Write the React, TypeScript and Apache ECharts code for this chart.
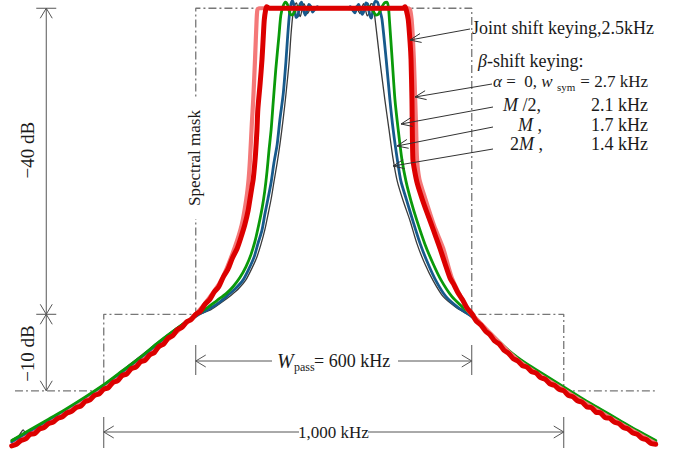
import React, { useEffect, useRef } from "react";
import * as echarts from "echarts";

// Axis ranges (kHz offset from carrier, dB relative level)
const FREQ_MIN = -700;
const FREQ_MAX = 700;
const LEVEL_MIN = -58;
const LEVEL_MAX = 1;

// Spectral mask
const maskFreq = [-693, -500, -500, -300, -300, 300, 300, 500, 500, 698];
const maskLevel = [-50, -50, -40, -40, 0, 0, -40, -40, -50, -50];

// Joint shift keying, 2.5 kHz (thick red)
const jointShiftKeying: number[][] = [
  [-700, -57.2], [-690, -57.0], [-680, -56.5], [-670, -56.3], [-660, -55.7], [-650, -55.6],
  [-640, -55.0], [-630, -54.8], [-620, -54.3], [-610, -54.1], [-600, -53.6], [-590, -53.4],
  [-580, -52.9], [-570, -52.7], [-560, -52.2], [-550, -52.0], [-540, -51.4], [-530, -51.2],
  [-520, -50.6], [-510, -50.4], [-500, -49.8], [-490, -49.6], [-480, -48.9], [-470, -48.7],
  [-460, -48.0], [-450, -47.8], [-440, -47.1], [-430, -46.9], [-420, -46.2], [-410, -46.0],
  [-400, -45.3], [-390, -45.0], [-380, -44.2], [-370, -43.9], [-360, -43.1], [-350, -42.8],
  [-340, -42.0], [-330, -41.7], [-320, -41.0], [-310, -40.7], [-300, -40.0], [-290, -39.6],
  [-280, -38.7], [-270, -38.1], [-260, -37.1], [-250, -36.4], [-240, -35.1], [-230, -34.1],
  [-220, -32.6], [-210, -31.4], [-202, -30.0], [-193, -28.2], [-186, -26.4], [-182, -24.9],
  [-178, -23.4], [-175, -22.3], [-172, -20.5], [-170, -19.0], [-167, -16.0], [-165, -13.2],
  [-160, -9.8], [-156, -6.7], [-153, -3.5], [-151, -1.5], [-148, -0.2], [-146, 0.2],
  [-140, 0.0], [0, 0.0], [150, 0.0], [155, 0.2], [158, -0.3], [162, -1.5], [166, -4.5],
  [168, -6.7], [170, -11.9], [172, -19.7], [176, -21.3], [182, -23.0], [192, -24.9],
  [202, -26.6], [212, -28.2], [222, -29.9], [231, -31.4], [242, -33.4], [253, -35.3],
  [260, -36.0], [270, -37.2], [280, -38.1], [290, -39.2], [300, -39.9], [310, -40.9],
  [320, -41.4], [330, -42.2], [340, -42.7], [350, -43.5], [360, -43.9], [370, -44.7],
  [380, -45.1], [390, -45.8], [400, -46.1], [410, -46.7], [420, -46.9], [430, -47.5],
  [440, -47.7], [450, -48.3], [460, -48.5], [470, -49.1], [480, -49.3], [490, -49.8],
  [500, -50.0], [510, -50.6], [520, -50.8], [530, -51.3], [540, -51.5], [550, -52.1],
  [560, -52.2], [570, -52.8], [580, -52.9], [590, -53.5], [600, -53.6], [610, -54.1],
  [620, -54.3], [630, -54.8], [640, -55.0], [650, -55.5], [660, -55.7], [670, -56.2],
  [680, -56.4], [690, -56.9], [700, -57.0],
];

// beta-shift keying, alpha = 0, 2.7 kHz (light red)
const betaAlpha0: number[][] = [
  [-700, -57.2], [-600, -53.6], [-500, -49.8], [-400, -45.3], [-300, -40.0], [-260, -37.0],
  [-240, -35.0], [-216, -31.4], [-200, -28.3], [-190, -24.9], [-185, -22.3], [-182, -19.7],
  [-178, -15.0], [-175, -11.9], [-171, -6.5], [-168, -2.0], [-166, -0.2], [-162, 0.0],
  [0, 0.0], [162, 0.0], [166, -0.2], [170, -2.0], [174, -6.5], [177, -11.9], [179, -15.5],
  [181, -19.7], [186, -22.3], [199, -24.9], [218, -28.4], [238, -31.4], [257, -35.3],
  [290, -39.3], [300, -40.0], [400, -46.0], [500, -49.9], [600, -53.5], [700, -56.9],
];

// beta-shift keying, M/2, 2.1 kHz (green)
const betaHalfM: number[][] = [
  [-700, -56.5], [-660, -55.1], [-620, -53.7], [-580, -52.3], [-540, -50.8], [-500, -49.2],
  [-460, -47.4], [-420, -45.6], [-380, -43.6], [-340, -41.8], [-297, -40.0], [-276, -39.2],
  [-254, -38.2], [-234, -37.3], [-219, -36.4], [-204, -35.2], [-191, -33.8], [-180, -32.2],
  [-171, -30.4], [-163, -28.3], [-156, -26.2], [-150, -23.9], [-145, -21.3], [-141, -18.7],
  [-136, -15.8], [-132, -12.6], [-126, -8.0], [-119, -3.5], [-115, -0.9], [-110, 0.3],
  [-105, 0.8], [-100, 0.4], [-95, -0.7], [-90, -0.9], [-84, -0.3], [-78, 0.2], [-70, 0.1],
  [-60, -0.1], [0, 0.0], [60, -0.1], [70, 0.1], [78, 0.2], [85, -0.3], [92, -0.9], [98, -0.7],
  [104, 0.1], [110, 0.7], [116, 0.8], [119, 0.1], [121, -1.5], [127, -6.7], [133, -11.9],
  [140, -15.8], [148, -19.7], [157, -22.6], [168, -25.2], [181, -27.8], [198, -30.8],
  [216, -33.4], [233, -35.5], [257, -37.7], [279, -39.0], [298, -40.0], [340, -42.4],
  [380, -44.7], [420, -46.5], [460, -48.0], [500, -49.5], [540, -51.0], [580, -52.4],
  [620, -53.8], [660, -55.2], [700, -56.5],
];

// beta-shift keying, M, 1.7 kHz (blue)
const betaM: number[][] = [
  [-700, -56.7], [-660, -55.3], [-620, -53.9], [-580, -52.5], [-540, -51.0], [-500, -49.4],
  [-460, -47.6], [-420, -45.8], [-380, -43.8], [-340, -41.9], [-293, -40.0], [-271, -39.3],
  [-250, -38.5], [-230, -37.5], [-213, -36.6], [-197, -35.5], [-184, -34.0], [-173, -32.5],
  [-165, -30.8], [-156, -29.0], [-150, -27.0], [-143, -24.9], [-136, -22.7], [-130, -20.2],
  [-123, -17.8], [-117, -14.5], [-110, -11.3], [-104, -7.0], [-100, -3.5], [-96, -0.6],
  [-93, 0.5], [-90, 1.0], [-86, 0.3], [-82, -1.2], [-78, -1.0], [-74, 0.4], [-70, 0.8],
  [-66, -0.2], [-62, -0.9], [-58, -0.3], [-54, 0.5], [-50, 0.2], [-46, -0.5], [-42, -0.2],
  [-36, 0.2], [-30, 0.0], [30, 0.0], [36, 0.2], [42, -0.3], [46, -0.6], [50, 0.1], [54, 0.5],
  [58, -0.2], [62, -0.8], [66, -0.3], [70, 0.7], [74, 0.5], [78, -0.8], [82, -1.3], [86, 0.1],
  [90, 0.9], [95, 0.8], [100, -0.2], [105, -1.5], [114, -6.7], [122, -11.9], [129, -15.8],
  [138, -19.7], [146, -22.6], [159, -25.2], [172, -27.8], [188, -30.8], [205, -33.4],
  [222, -35.6], [244, -37.7], [270, -39.1], [298, -40.2], [340, -42.5], [380, -44.8],
  [420, -46.6], [460, -48.1], [500, -49.6], [540, -51.1], [580, -52.5], [620, -53.9],
  [660, -55.3], [700, -56.6],
];

// beta-shift keying, 2M, 1.4 kHz (dark grey)
const beta2M: number[][] = [
  [-700, -56.4], [-685, -55.9], [-675, -55.1], [-668, -55.8], [-640, -54.6], [-600, -53.1],
  [-560, -51.6], [-520, -50.0], [-480, -48.3], [-440, -46.4], [-400, -44.5], [-360, -42.6],
  [-320, -40.9], [-291, -40.0], [-267, -39.4], [-245, -38.5], [-223, -37.5], [-206, -36.6],
  [-191, -35.5], [-178, -34.0], [-167, -32.5], [-158, -30.8], [-150, -29.0], [-143, -27.0],
  [-136, -24.9], [-130, -22.7], [-123, -20.2], [-117, -17.8], [-110, -14.5], [-104, -11.3],
  [-97, -7.0], [-93, -3.5], [-89, -0.9], [-85, 0.4], [-81, 0.7], [-77, -0.4], [-73, -1.1],
  [-69, -0.2], [-65, 0.6], [-61, 0.1], [-57, -0.7], [-53, -0.3], [-49, 0.3], [-44, -0.1],
  [-38, 0.0], [38, 0.0], [44, -0.2], [49, 0.3], [53, -0.3], [57, -0.7], [61, 0.1], [65, 0.6],
  [69, -0.2], [73, -1.0], [77, -0.5], [81, 0.6], [85, 0.5], [90, -1.5], [100, -6.7],
  [111, -11.9], [120, -15.8], [129, -19.7], [138, -22.6], [151, -25.2], [166, -27.8],
  [181, -30.8], [198, -33.4], [216, -35.6], [238, -37.7], [266, -39.1], [296, -40.2],
  [340, -42.3], [380, -44.7], [420, -46.5], [460, -48.0], [500, -49.5], [540, -51.0],
  [580, -52.4], [620, -53.8], [660, -55.2], [700, -56.5],
];

const SERIF = '"Liberation Serif", "Times New Roman", serif';
const INK = "#1a1a1a";
const DIM = "#555555";

function lineEl(x1: number, y1: number, x2: number, y2: number, color = DIM, w = 1) {
  return { type: "line", z: 100, silent: true, shape: { x1, y1, x2, y2 }, style: { stroke: color, lineWidth: w } };
}

function headEl(tipX: number, tipY: number, fromX: number, fromY: number, len = 10, half = 4.5, color = DIM) {
  const dx = tipX - fromX;
  const dy = tipY - fromY;
  const L = Math.hypot(dx, dy) || 1;
  const ux = dx / L;
  const uy = dy / L;
  const bx = tipX - ux * len;
  const by = tipY - uy * len;
  return {
    type: "polyline",
    z: 100,
    silent: true,
    shape: { points: [[bx - uy * half, by + ux * half], [tipX, tipY], [bx + uy * half, by - ux * half]] },
    style: { stroke: color, lineWidth: 1, fill: null },
  };
}

function textEl(x: number, y: number, text: string, size: number, opts: any = {}) {
  const { align = "left", rotation = 0, italic = false, rich, extra } = opts;
  return {
    type: "text",
    z: 101,
    silent: true,
    x,
    y,
    rotation,
    style: {
      text,
      fontFamily: SERIF,
      fontSize: size,
      fontStyle: italic ? "italic" : "normal",
      fill: INK,
      align,
      verticalAlign: "middle",
      rich,
      ...(extra || {}),
    },
  };
}

function italicRich(size: number) {
  return {
    i: { fontFamily: SERIF, fontSize: size, fontStyle: "italic", fill: INK },
    n: { fontFamily: SERIF, fontSize: size, fill: INK },
  };
}

function curve(name: string, data: number[][], color: string, width: number) {
  return {
    name,
    type: "line",
    data,
    symbol: "none",
    smooth: 0.25,
    silent: true,
    z: 3,
    lineStyle: { color, width, cap: "round", join: "round" },
  };
}

export default function App() {
  const ref = useRef<HTMLDivElement>(null);

  useEffect(() => {
    if (!ref.current) return;
    const chart = echarts.init(ref.current, null, { renderer: "svg" });
    const maskData = maskFreq.map((f, i) => [f, maskLevel[i]]);

    chart.setOption({
      animation: false,
      backgroundColor: "#ffffff",
      grid: { left: 11.75, width: 644, top: 0.6, height: 453.7, containLabel: false },
      xAxis: { type: "value", min: FREQ_MIN, max: FREQ_MAX, show: false },
      yAxis: { type: "value", min: LEVEL_MIN, max: LEVEL_MAX, show: false },
      series: [
        {
          name: "Spectral mask",
          type: "line",
          data: maskData,
          symbol: "none",
          silent: true,
          z: 1,
          lineStyle: { color: "#777777", width: 1.3, type: [8, 3, 2, 3] },
        },
        curve("2M", beta2M, "#3a3a3a", 1.3),
        curve("M", betaM, "#175a8c", 2.8),
        curve("M/2", betaHalfM, "#0a9a0a", 2.8),
        curve("alpha0", betaAlpha0, "#f47878", 4.2),
        curve("joint", jointShiftKeying, "#dc0000", 5),
      ],
    });

    const p = (f: number, d: number) => chart.convertToPixel({ gridIndex: 0 }, [f, d]) as number[];

    const [, y0] = p(0, 0);
    const [, y40] = p(0, -40);
    const [, y50] = p(0, -50);
    const [dimX] = p(-625, 0);
    const [xp300n] = p(-300, 0);
    const [xp300p] = p(300, 0);
    const [xp500n] = p(-500, 0);
    const [xp500p] = p(500, 0);

    const els: any[] = [];

    // Vertical dB dimension line
    els.push(lineEl(dimX, y0, dimX, y50));
    els.push(lineEl(dimX - 10, y0, dimX + 10, y0));
    els.push(lineEl(dimX - 10, y40, dimX + 10, y40));
    els.push(headEl(dimX, y0, dimX, y0 + 20, 10, 6));
    els.push(headEl(dimX, y40, dimX, y40 - 20, 10, 6));
    els.push(headEl(dimX, y40, dimX, y40 + 20, 10, 6));
    els.push(headEl(dimX, y50, dimX, y50 - 20, 10, 6));
    els.push(textEl(27, (y0 + y40) / 2 - 11, "\u221240 dB", 19, { align: "center", rotation: Math.PI / 2 }));
    els.push(textEl(27, (y40 + y50) / 2 + 1, "\u221210 dB", 19, { align: "center", rotation: Math.PI / 2 }));

    // Spectral mask label (interrupts the mask edge)
    els.push(
      textEl(xp300n - 1, 158, "Spectral mask", 17, {
        align: "center",
        rotation: Math.PI / 2,
        extra: { backgroundColor: "#ffffff", padding: [1, 13, 1, 13] },
      })
    );

    // W_pass dimension
    const wy = 361;
    els.push(lineEl(xp300n, wy - 16, xp300n, wy + 14));
    els.push(lineEl(xp300p, wy - 16, xp300p, wy + 14));
    els.push(lineEl(xp300n, wy, 272, wy));
    els.push(lineEl(398, wy, xp300p, wy));
    els.push(headEl(xp300n, wy, xp300n + 20, wy, 10, 6));
    els.push(headEl(xp300p, wy, xp300p - 20, wy, 10, 6));
    els.push(textEl(277, wy, "W", 20, { italic: true }));
    els.push(textEl(294, wy + 6, "pass", 12));
    els.push(textEl(314, wy, "= 600 kHz", 18));

    // 1,000 kHz dimension
    const ky = 432;
    els.push(lineEl(xp500n, ky - 15, xp500n, ky + 16));
    els.push(lineEl(xp500p, ky - 15, xp500p, ky + 16));
    els.push(lineEl(xp500n, ky, 299, ky));
    els.push(lineEl(368, ky, xp500p, ky));
    els.push(headEl(xp500n, ky, xp500n + 20, ky, 10, 6));
    els.push(headEl(xp500p, ky, xp500p - 20, ky, 10, 6));
    els.push(textEl(333.5, ky, "1,000 kHz", 17, { align: "center" }));

    // Pointer arrows to curves
    const pointers = [
      [470, 29, 410, 40],
      [492, 84, 415, 97],
      [493, 107, 401, 124],
      [493, 127, 397, 146],
      [493, 149, 393, 166],
    ];
    pointers.forEach(([x1, y1, x2, y2]) => {
      els.push(lineEl(x1, y1, x2, y2, "#333333", 1));
      els.push(headEl(x2, y2, x1, y1, 11, 4.5, "#333333"));
    });

    // Legend texts
    els.push(textEl(472, 28, "Joint shift keying,2.5kHz", 18));
    els.push(textEl(478, 61, "{i|\u03b2}{n|-shift keying:}", 18, { rich: italicRich(18) }));
    els.push(textEl(493, 81, "{i|\u03b1}{n| =  0, }{i|w}", 17, { rich: italicRich(17) }));
    els.push(textEl(557, 87, "sym", 11));
    els.push(textEl(648, 81, "= 2.7 kHz", 17, { align: "right" }));
    els.push(textEl(503, 105, "{i|M}{n| /2,}", 18, { rich: italicRich(18) }));
    els.push(textEl(648, 105, "2.1 kHz", 18, { align: "right" }));
    els.push(textEl(518, 125, "{i|M}{n| ,}", 18, { rich: italicRich(18) }));
    els.push(textEl(648, 125, "1.7 kHz", 18, { align: "right" }));
    els.push(textEl(510, 144, "{n|2}{i|M}{n| ,}", 18, { rich: italicRich(18) }));
    els.push(textEl(648, 144, "1.4 kHz", 18, { align: "right" }));

    chart.setOption({ graphic: { elements: els } });

    return () => chart.dispose();
  }, []);

  return (
    <div
      ref={ref}
      style={{ position: "fixed", left: 0, top: 0, width: 682, height: 452, background: "#ffffff" }}
    />
  );
}
